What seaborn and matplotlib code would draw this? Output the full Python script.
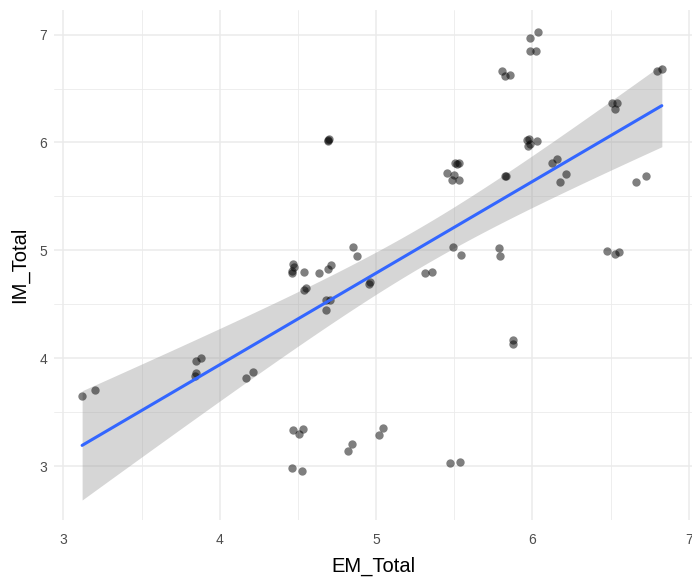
import numpy as np
import pandas as pd
import matplotlib
matplotlib.use("Agg")
import matplotlib.pyplot as plt
import seaborn as sns
from matplotlib.ticker import MultipleLocator

em_total = [3.12, 3.20, 3.846, 3.883, 3.85, 3.84, 4.171, 4.214,
            4.466, 4.53, 4.508, 4.46, 4.523, 4.823, 4.848, 5.02, 5.047,
            5.474, 5.538, 5.874, 5.874,
            4.47, 4.475, 4.46, 4.465, 4.538, 4.635, 4.69, 4.71,
            4.54, 4.55, 4.855, 4.876, 4.957, 4.96,
            4.677, 4.705, 4.677,
            4.695, 4.69, 4.70,
            5.314, 5.36, 5.49, 5.543, 5.788, 5.79,
            6.474, 6.528, 6.553, 6.66, 6.724,
            6.126, 6.158, 6.216, 6.175,
            6.506, 6.538, 6.528, 6.793, 6.827,
            5.805, 5.823, 5.859,
            5.983, 6.034, 5.983, 6.023,
            5.966, 5.987, 6.026, 5.97, 5.98,
            5.506, 5.527, 5.515,
            5.453, 5.496, 5.485, 5.527,
            5.827, 5.83]
im_total = [3.65, 3.705, 3.974, 4.005, 3.866, 3.835, 3.82, 3.875,
            3.334, 3.34, 3.30, 2.985, 2.956, 3.135, 3.205, 3.29, 3.355,
            3.03, 3.04, 4.13, 4.17,
            4.87, 4.85, 4.79, 4.81, 4.80, 4.79, 4.825, 4.865,
            4.63, 4.65, 5.03, 4.95, 4.685, 4.71,
            4.54, 4.54, 4.45,
            6.02, 6.01, 6.03,
            4.79, 4.80, 5.035, 4.957, 5.025, 4.95,
            4.997, 4.967, 4.98, 5.63, 5.69,
            5.814, 5.85, 5.71, 5.63,
            6.365, 6.37, 6.31, 6.66, 6.68,
            6.664, 6.618, 6.624,
            6.973, 7.02, 6.85, 6.85,
            6.024, 5.99, 6.015, 5.963, 6.03,
            5.81, 5.81, 5.80,
            5.72, 5.70, 5.653, 5.653,
            5.685, 5.69]

df = pd.DataFrame({"EM_Total": em_total, "IM_Total": im_total})

sns.set_style("white")
plt.rcParams['font.family'] = ['Liberation Sans', 'DejaVu Sans']

fig = plt.figure(figsize=(6.92, 5.79), dpi=100)
ax = fig.add_axes([0.078, 0.102, 0.922, 0.881])

grid_c = "#EBEBEB"
ax.xaxis.set_major_locator(MultipleLocator(1))
ax.xaxis.set_minor_locator(MultipleLocator(0.5))
ax.yaxis.set_major_locator(MultipleLocator(1))
ax.yaxis.set_minor_locator(MultipleLocator(0.5))
ax.grid(which="major", color=grid_c, linewidth=1.1)
ax.grid(which="minor", color=grid_c, linewidth=0.6)
ax.set_axisbelow(True)

# analytic 95% confidence band of the linear fit (as in ggplot's geom_smooth)
x = np.asarray(em_total)
y = np.asarray(im_total)
n = len(x)
b1, b0 = np.polyfit(x, y, 1)
resid = y - (b0 + b1 * x)
s = np.sqrt(np.sum(resid ** 2) / (n - 2))
sxx = np.sum((x - x.mean()) ** 2)
z = 1.959964
dof = n - 2
tq = z + (z ** 3 + z) / (4 * dof) + (5 * z ** 5 + 16 * z ** 3 + 3 * z) / (96 * dof ** 2)
xg = np.linspace(x.min(), x.max(), 200)
yg = b0 + b1 * xg
se = s * np.sqrt(1 / n + (xg - x.mean()) ** 2 / sxx)
ax.fill_between(xg, yg - tq * se, yg + tq * se, color="#999999", alpha=0.4,
                linewidth=0, zorder=2)

sns.scatterplot(data=df, x="EM_Total", y="IM_Total", ax=ax, color="black",
                alpha=0.5, s=36, linewidth=0, zorder=3)
sns.regplot(data=df, x="EM_Total", y="IM_Total", ax=ax, scatter=False,
            ci=None, line_kws={"color": "#3366FF", "linewidth": 2.2, "zorder": 4})

ax.set_xlim(2.94, 7.02)
ax.set_ylim(2.5, 7.23)
for sp in ax.spines.values():
    sp.set_visible(False)
ax.tick_params(axis="both", which="both", length=0, labelsize=10,
               labelcolor="#4D4D4D", pad=5)
ax.tick_params(axis="x", pad=9.5)
ax.set_xlabel("EM_Total", fontsize=14.5, color="black", labelpad=7)
ax.set_ylabel("IM_Total", fontsize=14.5, color="black", labelpad=7)

fig.savefig("out.png", dpi=100)
